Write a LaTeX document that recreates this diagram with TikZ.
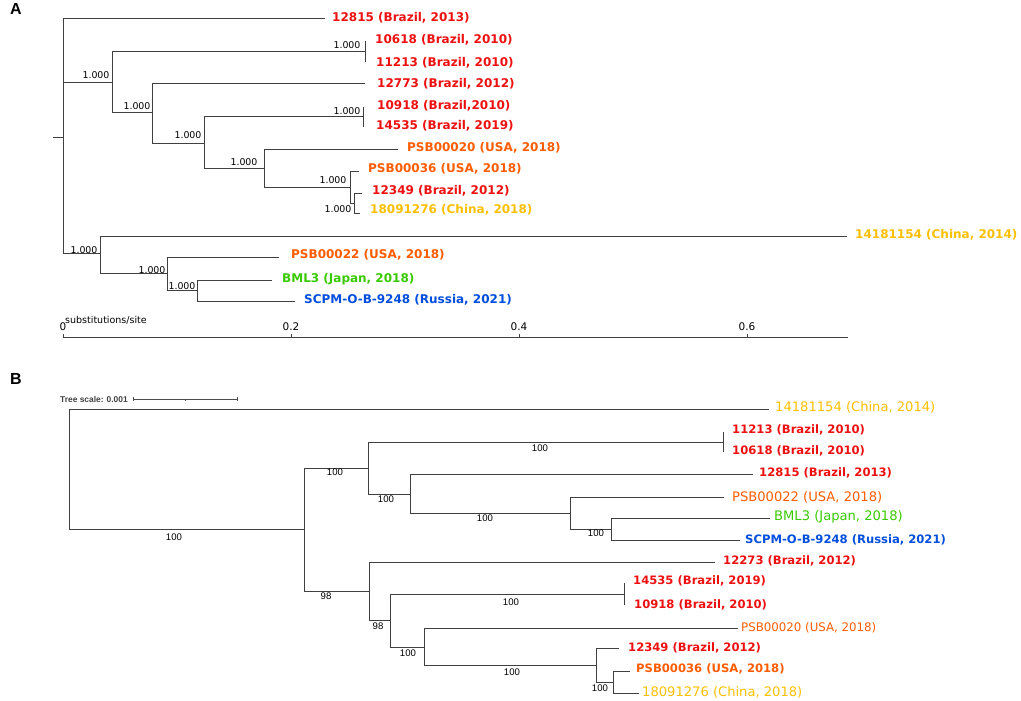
\documentclass[tikz,border=0pt]{standalone}
\usepackage{fontspec}
\setmainfont{DejaVu Sans}
\newfontfamily\headfont{Liberation Sans}
\usepackage{tikz}

\definecolor{brRed}{RGB}{238,16,16}
\definecolor{usOrange}{RGB}{255,92,0}
\definecolor{cnYellow}{RGB}{252,192,0}
\definecolor{jpGreen}{RGB}{56,202,0}
\definecolor{ruBlue}{RGB}{0,78,222}

\tikzset{
    branch/.style={line width=1pt,black!75},
    tipA/.style={anchor=west,inner sep=0pt,font=\fontsize{12}{14}\selectfont\bfseries},
    tipB/.style={anchor=west,inner sep=0pt,font=\fontsize{13.1}{15}\selectfont},
    tipBb/.style={tipB,font=\fontsize{11.6}{14}\selectfont\bfseries},
    supA/.style={inner sep=0pt,font=\fontsize{9.4}{11}\selectfont},
    supB/.style={inner sep=0pt,font=\headfont\fontsize{9.6}{11}\selectfont},
    panel/.style={anchor=north west,inner sep=0pt,font=\headfont\fontsize{16}{18}\selectfont\bfseries},
}

\begin{document}
\begin{tikzpicture}[x=1pt,y=-1pt]
    \useasboundingbox (0,0) rectangle (1021,701);

    %%%%%%%%%%%%%%%% Panel A %%%%%%%%%%%%%%%%
    \node[panel] (labA) at (10,3) {A};

    % Internal nodes
    \coordinate (aStub) at (53,137);
    \coordinate (aRoot) at (63,137);
    \coordinate (a1) at (112,83);
    \coordinate (a11) at (365,52);
    \coordinate (a12) at (152,113);
    \coordinate (a121) at (204,143);
    \coordinate (a1211) at (363,117);
    \coordinate (a1212) at (264,168);
    \coordinate (a12121) at (350,187);
    \coordinate (a121211) at (354,203);
    \coordinate (a2) at (100,253);
    \coordinate (a21) at (167,273);
    \coordinate (a211) at (197,290);

    % Tips
    \coordinate (tA12815) at (325,19);
    \coordinate (tA10618) at (365,41);
    \coordinate (tA11213) at (365,62);
    \coordinate (tA12773) at (365,84);
    \coordinate (tA10918) at (363,107);
    \coordinate (tA14535) at (363,127);
    \coordinate (tAPSB20) at (398,149);
    \coordinate (tAPSB36) at (359,171);
    \coordinate (tA12349) at (362,193);
    \coordinate (tA1809) at (360,213);
    \coordinate (tA1418) at (847,236);
    \coordinate (tAPSB22) at (279,257);
    \coordinate (tABML3) at (272,280);
    \coordinate (tASCPM) at (295,301);

    % Draw branches
    \draw[branch] (aStub) -- (aRoot);
    \draw[branch] (aRoot) |- (tA12815);
    \draw[branch] (aRoot) |- (a1);
    \draw[branch] (aRoot) |- (a2);
    \draw[branch] (a1) |- (a11);
    \draw[branch] (a1) |- (a12);
    \draw[branch] (a11) -- (tA10618);
    \draw[branch] (a11) -- (tA11213);
    \draw[branch] (a12) |- (tA12773);
    \draw[branch] (a12) |- (a121);
    \draw[branch] (a121) |- (a1211);
    \draw[branch] (a121) |- (a1212);
    \draw[branch] (a1211) -- (tA10918);
    \draw[branch] (a1211) -- (tA14535);
    \draw[branch] (a1212) |- (tAPSB20);
    \draw[branch] (a1212) |- (a12121);
    \draw[branch] (a12121) |- (tAPSB36);
    \draw[branch] (a12121) |- (a121211);
    \draw[branch] (a121211) |- (tA12349);
    \draw[branch] (a121211) |- (tA1809);
    \draw[branch] (a2) |- (tA1418);
    \draw[branch] (a2) |- (a21);
    \draw[branch] (a21) |- (tAPSB22);
    \draw[branch] (a21) |- (a211);
    \draw[branch] (a211) |- (tABML3);
    \draw[branch] (a211) |- (tASCPM);

    % Tip labels
    \node[tipA,brRed] (lA12815) at (332,18) {12815 (Brazil, 2013)};
    \node[tipA,brRed] (lA10618) at (375,40) {10618 (Brazil, 2010)};
    \node[tipA,brRed] (lA11213) at (376,63) {11213 (Brazil, 2010)};
    \node[tipA,brRed] (lA12773) at (377,84) {12773 (Brazil, 2012)};
    \node[tipA,brRed] (lA10918) at (377,106) {10918 (Brazil,2010)};
    \node[tipA,brRed] (lA14535) at (376,126) {14535 (Brazil, 2019)};
    \node[tipA,usOrange] (lAPSB20) at (407,148) {PSB00020 (USA, 2018)};
    \node[tipA,usOrange] (lAPSB36) at (368,169) {PSB00036 (USA, 2018)};
    \node[tipA,brRed] (lA12349) at (372,191) {12349 (Brazil, 2012)};
    \node[tipA,cnYellow] (lA1809) at (370,210) {18091276 (China, 2018)};
    \node[tipA,cnYellow] (lA1418) at (855,235) {14181154 (China, 2014)};
    \node[tipA,usOrange] (lAPSB22) at (291,255) {PSB00022 (USA, 2018)};
    \node[tipA,jpGreen] (lABML3) at (282,279) {BML3 (Japan, 2018)};
    \node[tipA,ruBlue] (lASCPM) at (304,300) {SCPM-O-B-9248 (Russia, 2021)};

    % Support values
    \node[supA] (sa1) at (96,75) {1.000};
    \node[supA] (sa11) at (347,45) {1.000};
    \node[supA] (sa12) at (137,106) {1.000};
    \node[supA] (sa121) at (188,135) {1.000};
    \node[supA] (sa1211) at (347,111) {1.000};
    \node[supA] (sa1212) at (244,162) {1.000};
    \node[supA] (sa12121) at (333,180) {1.000};
    \node[supA] (sa121211) at (338,209) {1.000};
    \node[supA] (sa2) at (84,250) {1.000};
    \node[supA] (sa21) at (152,270) {1.000};
    \node[supA] (sa211) at (182,286) {1.000};

    % Draw axis
    \draw[branch] (63,337) -- (848,337);
    \foreach \xt/\lab in {63/0,291/0.2,519/0.4,747/0.6}{
        \draw[branch] (\xt,334) -- (\xt,337);
        \node[inner sep=0pt,font=\fontsize{10.5}{12}\selectfont] at (\xt,327) {\lab};
    }
    \node[anchor=west,inner sep=0pt,font=\fontsize{9.5}{11}\selectfont] (axlab) at (65,320) {substitutions/site};

    %%%%%%%%%%%%%%%% Panel B %%%%%%%%%%%%%%%%
    \node[panel] (labB) at (10,373) {B};

    % Tree scale
    \node[anchor=west,inner sep=0pt,black!75,font=\headfont\fontsize{8.4}{10}\selectfont\bfseries] (scl) at (60,399) {Tree scale: 0.001};
    \draw[black!70,line width=0.6pt] (133,399) -- (237,399);
    \draw[black!70,line width=0.6pt] (133,397) -- (133,401) (237,397) -- (237,401) (185,399) -- (185,400.5);

    % Internal nodes
    \coordinate (bRoot) at (69,469);
    \coordinate (b1) at (304,529);
    \coordinate (b11) at (368,468);
    \coordinate (b111) at (723,442);
    \coordinate (b112) at (410,494);
    \coordinate (b1121) at (570,513);
    \coordinate (b11211) at (611,529);
    \coordinate (b12) at (369,591);
    \coordinate (b121) at (390,620);
    \coordinate (b1211) at (624,594);
    \coordinate (b1212) at (424,647);
    \coordinate (b12121) at (596,665);
    \coordinate (b121211) at (613,682);

    % Tips
    \coordinate (tB1418) at (769,409);
    \coordinate (tB11213) at (723,432);
    \coordinate (tB10618) at (723,452);
    \coordinate (tB12815) at (753,474);
    \coordinate (tBPSB22) at (724,497);
    \coordinate (tBBML3) at (770,518);
    \coordinate (tBSCPM) at (740,540);
    \coordinate (tB12273) at (715,562);
    \coordinate (tB14535) at (624,583);
    \coordinate (tB10918) at (624,605);
    \coordinate (tBPSB20) at (738,628);
    \coordinate (tB12349) at (619,648);
    \coordinate (tBPSB36) at (630,671);
    \coordinate (tB1809) at (639,693);

    % Draw branches
    \draw[branch] (bRoot) |- (tB1418);
    \draw[branch] (bRoot) |- (b1);
    \draw[branch] (b1) |- (b11);
    \draw[branch] (b1) |- (b12);
    \draw[branch] (b11) |- (b111);
    \draw[branch] (b11) |- (b112);
    \draw[branch] (b111) -- (tB11213);
    \draw[branch] (b111) -- (tB10618);
    \draw[branch] (b112) |- (tB12815);
    \draw[branch] (b112) |- (b1121);
    \draw[branch] (b1121) |- (tBPSB22);
    \draw[branch] (b1121) |- (b11211);
    \draw[branch] (b11211) |- (tBBML3);
    \draw[branch] (b11211) |- (tBSCPM);
    \draw[branch] (b12) |- (tB12273);
    \draw[branch] (b12) |- (b121);
    \draw[branch] (b121) |- (b1211);
    \draw[branch] (b121) |- (b1212);
    \draw[branch] (b1211) -- (tB14535);
    \draw[branch] (b1211) -- (tB10918);
    \draw[branch] (b1212) |- (tBPSB20);
    \draw[branch] (b1212) |- (b12121);
    \draw[branch] (b12121) |- (tB12349);
    \draw[branch] (b12121) |- (b121211);
    \draw[branch] (b121211) |- (tBPSB36);
    \draw[branch] (b121211) |- (tB1809);

    % Tip labels
    \node[tipB,cnYellow] (lB1418) at (775,407) {14181154 (China, 2014)};
    \node[tipBb,brRed] (lB11213) at (732,430) {11213 (Brazil, 2010)};
    \node[tipBb,brRed] (lB10618) at (732,451) {10618 (Brazil, 2010)};
    \node[tipBb,brRed] (lB12815) at (759,473) {12815 (Brazil, 2013)};
    \node[tipB,usOrange] (lBPSB22) at (732,497) {PSB00022 (USA, 2018)};
    \node[tipB,jpGreen] (lBBML3) at (774,517) {BML3 (Japan, 2018)};
    \node[tipBb,ruBlue] (lBSCPM) at (745,540) {SCPM-O-B-9248 (Russia, 2021)};
    \node[tipBb,brRed] (lB12273) at (723,561) {12273 (Brazil, 2012)};
    \node[tipBb,brRed] (lB14535) at (633,581) {14535 (Brazil, 2019)};
    \node[tipBb,brRed] (lB10918) at (634,605) {10918 (Brazil, 2010)};
    \node[tipB,usOrange,font=\fontsize{11.8}{13}\selectfont] (lBPSB20) at (741,628) {PSB00020 (USA, 2018)};
    \node[tipBb,brRed] (lB12349) at (628,648) {12349 (Brazil, 2012)};
    \node[tipBb,usOrange] (lBPSB36) at (636,669) {PSB00036 (USA, 2018)};
    \node[tipB,cnYellow] (lB1809) at (642,692) {18091276 (China, 2018)};

    % Support values
    \node[supB] (sb1) at (174,537) {100};
    \node[supB] (sb11) at (335,472) {100};
    \node[supB] (sb111) at (540,448) {100};
    \node[supB] (sb112) at (386,499) {100};
    \node[supB] (sb1121) at (485,518) {100};
    \node[supB] (sb11211) at (596,533) {100};
    \node[supB] (sb12) at (326,596) {98};
    \node[supB] (sb121) at (378,626) {98};
    \node[supB] (sb1211) at (511,602) {100};
    \node[supB] (sb1212) at (408,653) {100};
    \node[supB] (sb12121) at (512,672) {100};
    \node[supB] (sb121211) at (600,688) {100};
\end{tikzpicture}
\end{document}
